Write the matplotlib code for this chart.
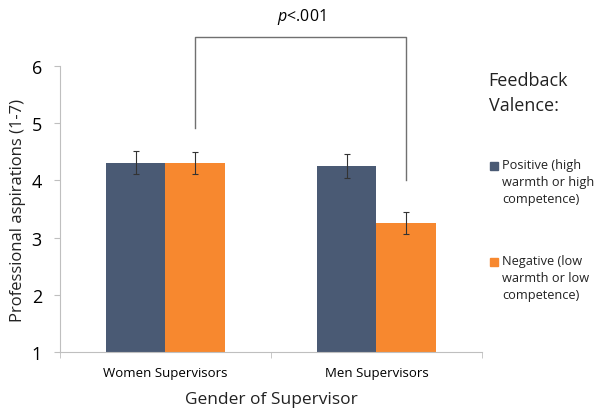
import matplotlib
matplotlib.use("Agg")
import matplotlib.pyplot as plt
from matplotlib.patches import Rectangle
import numpy as np

categories = ["Women Supervisors", "Men Supervisors"]
positive = [4.31, 4.25]
negative = [4.30, 3.26]
positive_err = [0.20, 0.21]
negative_err = [0.19, 0.19]
series_labels = ["Positive (high\nwarmth or high\ncompetence)", "Negative (low\nwarmth or low\ncompetence)"]
yticks = [1, 2, 3, 4, 5, 6]
bracket_y = [4.92, 6.5, 4.0]

plt.rcParams['font.family'] = ['Open Sans', 'DejaVu Sans']
plt.rcParams['mathtext.fontset'] = 'custom'
plt.rcParams['mathtext.it'] = 'Open Sans:italic'
plt.rcParams['mathtext.rm'] = 'Open Sans'

c_pos = "#4a5a74"
c_neg = "#f7882f"
grey = "#bfbfbf"

fig = plt.figure(figsize=(5.98, 4.10), dpi=100)
ax = fig.add_axes([0.1003, 0.139, 0.7057, 0.6976])

x = np.arange(len(categories))
w = 0.284
b1 = ax.bar(x - w / 2, np.array(positive) - 1, w, bottom=1, color=c_pos, label=series_labels[0])
b2 = ax.bar(x + w / 2, np.array(negative) - 1, w, bottom=1, color=c_neg, label=series_labels[1])
ax.errorbar(x - w / 2, positive, yerr=positive_err, fmt="none", ecolor="#333333", elinewidth=0.8, capsize=2.5, capthick=0.8)
ax.errorbar(x + w / 2, negative, yerr=negative_err, fmt="none", ecolor="#333333", elinewidth=0.8, capsize=2.5, capthick=0.8)

ax.set_xlim(-0.5, 1.5)
ax.set_ylim(1, 6)
ax.set_yticks(yticks)
ax.set_yticklabels([str(t) for t in yticks], fontsize=13)
ax.set_xticks(x)
ax.set_xticklabels(categories, fontsize=9.5)
ax.set_xticks([-0.5, 0.5, 1.5], minor=True)
ax.tick_params(axis="x", which="major", length=0, pad=10)
ax.tick_params(axis="x", which="minor", length=4, color=grey, direction="out")
ax.tick_params(axis="y", length=4, color=grey, direction="out", pad=9)

for s in ["top", "right"]:
    ax.spines[s].set_visible(False)
for s in ["left", "bottom"]:
    ax.spines[s].set_color(grey)
    ax.spines[s].set_linewidth(0.8)

ax.set_ylabel("Professional aspirations (1-7)", fontsize=12, color="#222222", labelpad=4)
ax.set_xlabel("Gender of Supervisor", fontsize=12.5, color="#222222", labelpad=9)

# significance bracket
bx = [x[0] + w / 2, x[0] + w / 2, x[1] + w / 2, x[1] + w / 2]
by = [bracket_y[0], bracket_y[1], bracket_y[1], bracket_y[2]]
ax.plot(bx, by, color="#707070", lw=1.0, clip_on=False)
ax.text((bx[0] + bx[2]) / 2, bracket_y[1] + 0.2, r"$\it{p}$<.001", ha="center", va="bottom", fontsize=11.5)

# legend
fig.text(0.817, 0.825, "Feedback\nValence:", ha="left", va="top", fontsize=13, linespacing=1.5, color="#222222")
W, H = fig.get_size_inches() * fig.dpi
legend_rows = [(166, c_pos, series_labels[0]), (262, c_neg, series_labels[1])]
for ypx, col, lab in legend_rows:
    fig.patches.append(Rectangle(((490) / W, 1 - (ypx + 4.5) / H), 8 / W, 8 / H,
                                 transform=fig.transFigure, color=col, figure=fig))
    fig.text(502 / W, 1 - (ypx - 7) / H, lab, ha="left", va="top", fontsize=9.2,
             linespacing=1.38, color="#222222")

fig.savefig("out.png", dpi=100)
